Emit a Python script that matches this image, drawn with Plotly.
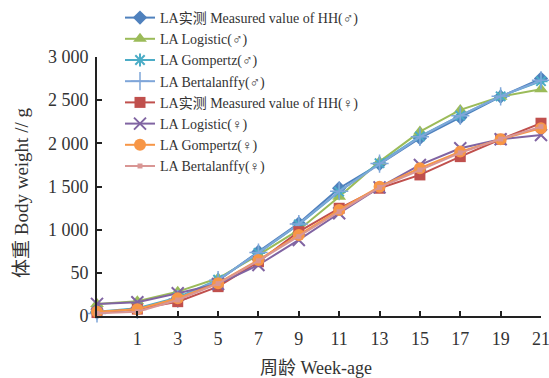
import plotly.graph_objects as go

weeks = ["", "1", "3", "5", "7", "9", "11", "13", "15", "17", "19", "21"]

male_measured = [40, 85, 190, 410, 745, 1074, 1480, 1760, 2060, 2300, 2540, 2750]
male_logistic = [140, 170, 282, 437, 707, 997, 1382, 1788, 2136, 2387, 2540, 2627]
male_gompertz = [50, 90, 215, 420, 730, 1060, 1440, 1770, 2080, 2320, 2545, 2720]
male_bertalanffy = [30, 75, 200, 415, 735, 1065, 1445, 1765, 2075, 2320, 2545, 2730]
female_measured = [40, 80, 166, 340, 629, 977, 1248, 1480, 1634, 1846, 2047, 2233]
female_logistic = [140, 160, 263, 370, 591, 881, 1190, 1490, 1750, 1943, 2047, 2097]
female_gompertz = [50, 78, 205, 380, 649, 939, 1228, 1498, 1711, 1904, 2047, 2175]
female_bertalanffy = [31, 50, 185, 375, 640, 919, 1208, 1490, 1692, 1890, 2050, 2193]

y_tickvals = [0, 500, 1000, 1500, 2000, 2500, 3000]
y_ticktext = ["0", "50", "1 000", "1 500", "2 000", "2 500", "3 000"]

names = [
    "LA实测 Measured value of HH(♂)",
    "LA Logistic(♂)",
    "LA Gompertz(♂)",
    "LA Bertalanffy(♂)",
    "LA实测 Measured value of HH(♀)",
    "LA Logistic(♀)",
    "LA Gompertz(♀)",
    "LA Bertalanffy(♀)",
]

FONT = "Liberation Serif, 'Noto Sans CJK SC', serif"
x_idx = list(range(len(weeks)))

series = [
    (male_measured, "#4F81BD", "diamond", 11, 0),
    (male_logistic, "#9BBB59", "triangle-up", 12, 0),
    (male_gompertz, "#4BACC6", "asterisk-open", 11, 2),
    (male_bertalanffy, "#7FA6D9", "cross-thin-open", 13, 1.5),
    (female_measured, "#C0504D", "square", 11, 0),
    (female_logistic, "#8064A2", "x-thin-open", 12, 2),
    (female_gompertz, "#F79646", "circle", 12, 0),
    (female_bertalanffy, "#D99694", "square", 5, 0),
]

fig = go.Figure()
for (vals, color, sym, size, lw), name in zip(series, names):
    marker = dict(symbol=sym, size=size, color=color)
    if lw:
        marker["line"] = dict(color=color, width=lw)
    fig.add_trace(go.Scatter(
        x=x_idx, y=vals, name=name, mode="lines+markers",
        line=dict(color=color, width=2),
        marker=marker, cliponaxis=False,
    ))

fig.update_layout(
    width=549, height=378,
    margin=dict(l=97, r=8, t=57, b=62, autoexpand=False),
    paper_bgcolor="white", plot_bgcolor="white",
    font=dict(family=FONT, size=18, color="#333333"),
    showlegend=True,
    legend=dict(
        x=(120 - 97) / 444, y=1 + (57 - 2) / 259, xanchor="left", yanchor="top",
        bgcolor="rgba(255,255,255,0)", font=dict(family=FONT, size=14, color="#333333"),
        tracegroupgap=0, maxheight=1,
    ),
    xaxis=dict(
        range=[0, 11], tickmode="array", tickvals=x_idx, ticktext=weeks,
        ticks="inside", ticklen=5, tickwidth=1.5, tickcolor="#222",
        showline=True, linecolor="#222", linewidth=2, showgrid=False, zeroline=False,
        tickfont=dict(family=FONT, size=18, color="#333333"),
        ticklabeloverflow="allow", ticklabelstandoff=5,
    ),
    yaxis=dict(
        range=[0, 3000], tickmode="array", tickvals=y_tickvals, ticktext=y_ticktext,
        ticks="inside", ticklen=5, tickwidth=1.5, tickcolor="#222",
        showline=True, linecolor="#222", linewidth=2, showgrid=False, zeroline=False,
        tickfont=dict(family=FONT, size=18, color="#333333"),
        ticklabeloverflow="allow", ticklabelstandoff=3,
    ),
    annotations=[
        dict(text="周龄 Week-age", xref="paper", yref="paper",
             x=(316 - 97) / 444, y=(316 - 368) / 259, xanchor="center", yanchor="middle",
             showarrow=False, font=dict(family=FONT, size=18, color="#333333")),
        dict(text="体重 Body weight // g", xref="paper", yref="paper",
             x=(21 - 97) / 444, y=(316 - 193) / 259, xanchor="center", yanchor="middle",
             textangle=-90, showarrow=False, font=dict(family=FONT, size=19, color="#333333")),
    ],
)

fig.write_html("out.html")
